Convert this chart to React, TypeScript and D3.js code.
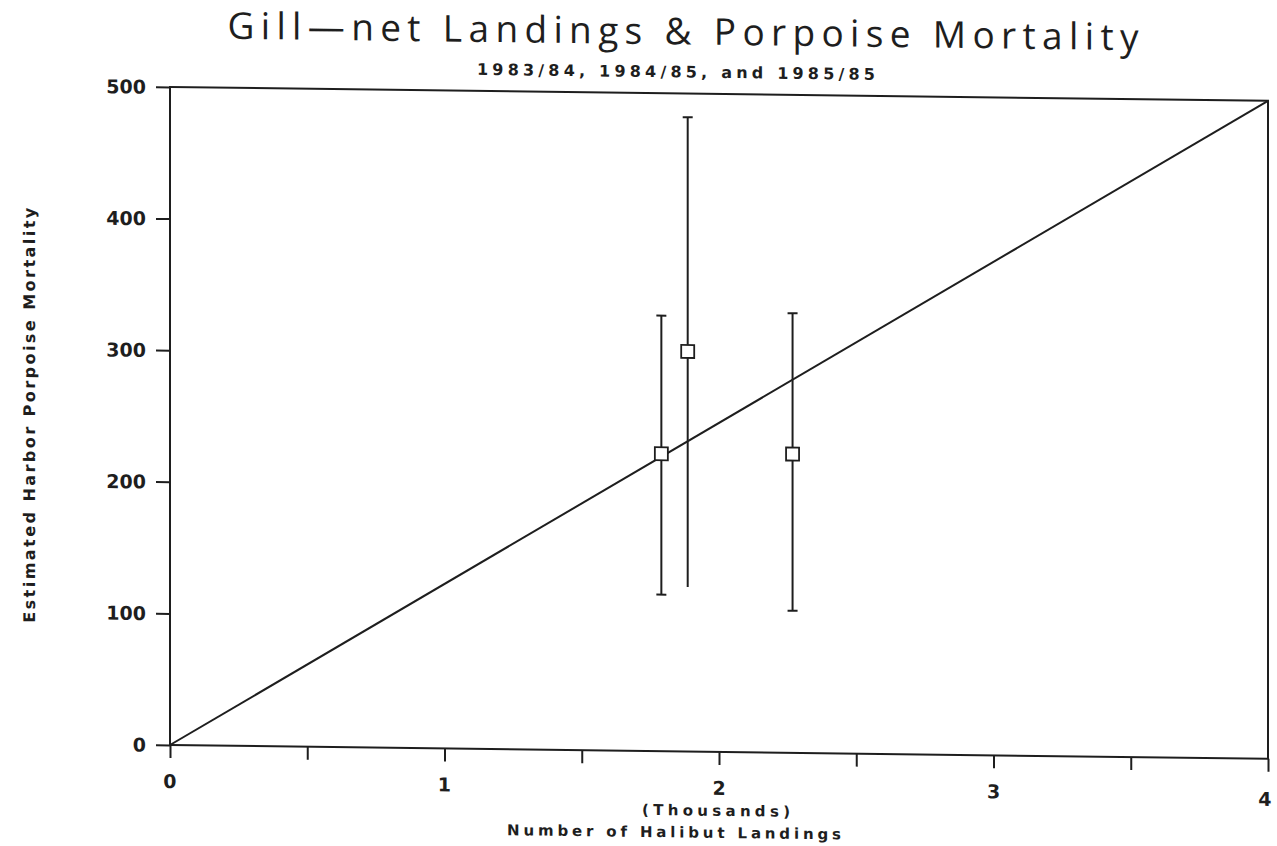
import { useEffect, useRef } from "react";
import * as d3 from "d3";

// landings (thousands) vs estimated porpoise mortality, with ranges
const landings = [1.79, 1.886, 2.268];
const mortality = [226, 304, 227];
const lowBound = [119, 125, 108];
const highBound = [331, 482, 334];
const lowCap = [true, false, true];

const fitLine: [number, number][] = [
  [0, 0],
  [4, 500],
];

const xTicks = [0, 0.5, 1, 1.5, 2, 2.5, 3, 3.5, 4];
const xLabels = [0, 1, 2, 3, 4];
const yTicks = [0, 100, 200, 300, 400, 500];

export default function App() {
  const ref = useRef<SVGSVGElement>(null);

  useEffect(() => {
    const svg = d3.select(ref.current);
    svg.selectAll("*").remove();

    const width = 1277;
    const height = 846;
    const left = 170, right = 1268, top = 87, bottom = 745;
    const ink = "#1e1e1e";
    const bold = "'DejaVu Sans', sans-serif";

    svg.attr("width", width).attr("height", height);
    svg.append("rect").attr("width", width).attr("height", height).attr("fill", "#fff");

    const x = d3.scaleLinear().domain([0, 4]).range([left, right]);
    const y = d3.scaleLinear().domain([0, 500]).range([bottom, top]);

    // the scanned page is slightly sheared
    const g = svg
      .append("g")
      .attr("transform", `translate(${left},0) skewY(0.72) translate(${-left},0)`);

    // Title
    g.append("text")
      .attr("x", 683)
      .attr("y", 38)
      .attr("text-anchor", "middle")
      .attr("font-family", "'Open Sans', sans-serif")
      .attr("font-size", 37)
      .attr("textLength", 911)
      .attr("lengthAdjust", "spacing")
      .attr("fill", ink)
      .text("Gill\u2014net Landings & Porpoise Mortality");

    g.append("text")
      .attr("x", 676)
      .attr("y", 71)
      .attr("text-anchor", "middle")
      .attr("font-family", bold)
      .attr("font-size", 16)
      .attr("font-weight", "bold")
      .attr("textLength", 398)
      .attr("lengthAdjust", "spacing")
      .attr("fill", ink)
      .text("1983/84, 1984/85, and 1985/85");

    // frame
    g.append("rect")
      .attr("x", left)
      .attr("y", top)
      .attr("width", right - left)
      .attr("height", bottom - top)
      .attr("fill", "none")
      .attr("stroke", ink)
      .attr("stroke-width", 2);

    // X axis
    const xAxis = g
      .append("g")
      .attr("transform", `translate(0,${bottom})`)
      .call(d3.axisBottom(x).tickValues(xTicks).tickSize(13).tickFormat(() => ""));
    xAxis.select(".domain").remove();
    xAxis.selectAll("line").attr("stroke", ink).attr("stroke-width", 2);

    g.selectAll(".xlab")
      .data(xLabels)
      .enter()
      .append("text")
      .attr("x", (d) => x(d) - (d === 4 ? 3 : 0))
      .attr("y", (d) => bottom + 43 + (d === 4 ? 4 : 0))
      .attr("text-anchor", "middle")
      .attr("font-family", bold)
      .attr("font-weight", "bold")
      .attr("font-size", 19)
      .attr("fill", ink)
      .text((d) => d);

    // Y axis
    const yAxis = g
      .append("g")
      .attr("transform", `translate(${left},0)`)
      .call(d3.axisLeft(y).tickValues(yTicks).tickSize(14).tickFormat(() => ""));
    yAxis.select(".domain").remove();
    yAxis.selectAll("line").attr("stroke", ink).attr("stroke-width", 2);

    g.selectAll(".ylab")
      .data(yTicks)
      .enter()
      .append("text")
      .attr("x", left - 24)
      .attr("y", (d) => y(d) + 7)
      .attr("text-anchor", "end")
      .attr("font-family", bold)
      .attr("font-weight", "bold")
      .attr("font-size", 19)
      .attr("fill", ink)
      .text((d) => d);

    // fitted line
    g.append("path")
      .datum(fitLine)
      .attr("fill", "none")
      .attr("stroke", ink)
      .attr("stroke-width", 2)
      .attr("d", d3.line().x((d) => x(d[0])).y((d) => y(d[1])));

    // error bars
    const cap = 5;
    landings.forEach((lx, i) => {
      const cx = x(lx);
      g.append("line")
        .attr("x1", cx).attr("x2", cx)
        .attr("y1", y(lowBound[i])).attr("y2", y(highBound[i]))
        .attr("stroke", ink).attr("stroke-width", 2);
      g.append("line")
        .attr("x1", cx - cap).attr("x2", cx + cap)
        .attr("y1", y(highBound[i])).attr("y2", y(highBound[i]))
        .attr("stroke", ink).attr("stroke-width", 2);
      if (lowCap[i]) {
        g.append("line")
          .attr("x1", cx - cap).attr("x2", cx + cap)
          .attr("y1", y(lowBound[i])).attr("y2", y(lowBound[i]))
          .attr("stroke", ink).attr("stroke-width", 2);
      }
      g.append("rect")
        .attr("x", cx - 6.5)
        .attr("y", y(mortality[i]) - 6.5)
        .attr("width", 13)
        .attr("height", 13)
        .attr("fill", "#fff")
        .attr("stroke", ink)
        .attr("stroke-width", 1.8);
    });

    // axis titles
    g.append("text")
      .attr("transform", "translate(35,417) rotate(-90)")
      .attr("text-anchor", "middle")
      .attr("font-family", bold)
      .attr("font-weight", "bold")
      .attr("font-size", 16)
      .attr("textLength", 415)
      .attr("lengthAdjust", "spacing")
      .attr("fill", ink)
      .text("Estimated Harbor Porpoise Mortality");

    g.append("text")
      .attr("x", 716)
      .attr("y", 809)
      .attr("text-anchor", "middle")
      .attr("font-family", bold)
      .attr("font-weight", "bold")
      .attr("font-size", 15)
      .attr("textLength", 148)
      .attr("lengthAdjust", "spacing")
      .attr("fill", ink)
      .text("(Thousands)");

    g.append("text")
      .attr("x", 674)
      .attr("y", 831)
      .attr("text-anchor", "middle")
      .attr("font-family", bold)
      .attr("font-weight", "bold")
      .attr("font-size", 15)
      .attr("textLength", 334)
      .attr("lengthAdjust", "spacing")
      .attr("fill", ink)
      .text("Number of Halibut Landings");
  }, []);

  return <svg ref={ref} style={{ position: "absolute", left: 0, top: 0 }} />;
}
